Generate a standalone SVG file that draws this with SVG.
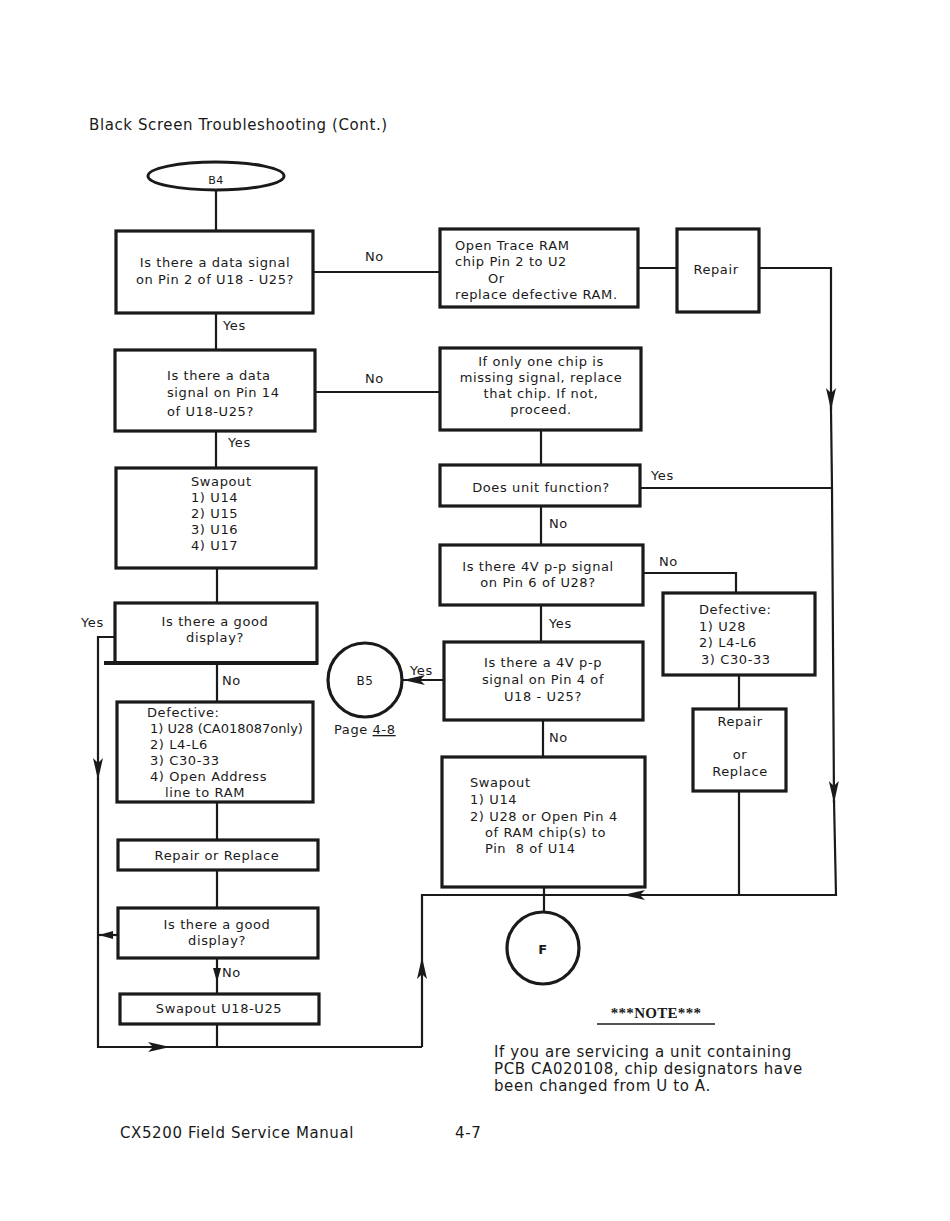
<svg xmlns="http://www.w3.org/2000/svg" width="950" height="1221" viewBox="0 0 950 1221">
<defs>
<style>
text{font-family:"DejaVu Sans","Liberation Sans",sans-serif;font-size:13px;letter-spacing:0.6px;fill:#1a1a1a}
.c{text-anchor:middle}
.box{fill:#fff;stroke:#1a1a1a;stroke-width:3.2}
.ln{fill:none;stroke:#1a1a1a;stroke-width:2.2}
.big{font-size:15px;letter-spacing:0.6px}
.b{font-weight:bold}
</style>
<marker id="ah" markerUnits="userSpaceOnUse" markerWidth="22" markerHeight="10" refX="22" refY="5" orient="auto">
<path d="M0,0 L22,5 L0,10 L5,5 z" fill="#1a1a1a"/>
</marker>
<marker id="ahs" markerUnits="userSpaceOnUse" markerWidth="14" markerHeight="8" refX="14" refY="4" orient="auto">
<path d="M0,0 L14,4 L0,8 z" fill="#1a1a1a"/>
</marker>
</defs>
<rect width="950" height="1221" fill="#fff"/>
<text x="89" y="130" class="big">Black Screen Troubleshooting (Cont.)</text>

<g id="connectors">
<line class="ln" x1="216" y1="190" x2="216" y2="231"/>
<line class="ln" x1="216" y1="313" x2="216" y2="350"/>
<line class="ln" x1="216" y1="431" x2="216" y2="468"/>
<line class="ln" x1="217" y1="568" x2="217" y2="603"/>
<line class="ln" x1="217" y1="663" x2="217" y2="702"/>
<line class="ln" x1="217" y1="802" x2="217" y2="840"/>
<line class="ln" x1="217" y1="870" x2="217" y2="908"/>
<line class="ln" x1="217" y1="958" x2="217" y2="982" marker-end="url(#ahs)"/>
<line class="ln" x1="217" y1="982" x2="217" y2="994"/>
<line class="ln" x1="217" y1="1024" x2="217" y2="1047"/>
<line class="ln" x1="313" y1="272" x2="440" y2="272"/>
<line class="ln" x1="315" y1="392" x2="440" y2="392"/>
<line class="ln" x1="638" y1="268" x2="677" y2="268"/>
<polyline class="ln" points="759,268 831,268 831,410"/>
<line class="ln" x1="831" y1="400" x2="831" y2="410" marker-end="url(#ah)"/>
<polyline class="ln" points="831,410 832,488 834,803" marker-end="url(#ah)"/>
<polyline class="ln" points="834,800 836,895 623,895" marker-end="url(#ah)"/>
<polyline class="ln" points="625,895 422,895 422,957"/>
<line class="ln" x1="422" y1="1047" x2="422" y2="957" marker-end="url(#ah)"/>
<line class="ln" x1="541" y1="430" x2="541" y2="465"/>
<line class="ln" x1="640" y1="488" x2="832" y2="488"/>
<line class="ln" x1="541" y1="506" x2="541" y2="545"/>
<polyline class="ln" points="643,573 736,573 736,593"/>
<line class="ln" x1="739" y1="675" x2="739" y2="709"/>
<line class="ln" x1="739" y1="791" x2="739" y2="895"/>
<line class="ln" x1="541" y1="605" x2="541" y2="642"/>
<line class="ln" x1="444" y1="680" x2="403" y2="680" marker-end="url(#ah)"/>
<line class="ln" x1="543" y1="720" x2="543" y2="757"/>
<line class="ln" x1="544" y1="887" x2="544" y2="912"/>
<polyline class="ln" points="115,637 98,637 98,780" marker-end="url(#ah)"/>
<polyline class="ln" points="98,778 98,1047 170,1047" marker-end="url(#ah)"/>
<line class="ln" x1="168" y1="1047" x2="422" y2="1047"/>
<line class="ln" x1="118" y1="935" x2="99" y2="935" marker-end="url(#ahs)"/>
<text x="365" y="261">No</text>
<text x="223" y="330">Yes</text>
<text x="365" y="383">No</text>
<text x="228" y="447">Yes</text>
<text x="651" y="480">Yes</text>
<text x="549" y="528">No</text>
<text x="659" y="566">No</text>
<text x="549" y="628">Yes</text>
<text x="410" y="675">Yes</text>
<text x="549" y="742">No</text>
<text x="81" y="627">Yes</text>
<text x="222" y="685">No</text>
<text x="222" y="977">No</text>
</g>

<g id="b4">
<ellipse cx="216" cy="176" rx="68" ry="14" fill="#fff" stroke="#1a1a1a" stroke-width="3"/>
<text x="216" y="184" class="c" style="font-size:11px">B4</text>
</g>

<g id="q-pin2">
<rect class="box" x="116" y="231" width="197" height="82"/>
<text x="215" y="267" class="c">Is there a data signal</text>
<text x="215" y="284" class="c">on Pin 2 of U18 - U25?</text>
</g>

<g id="open-trace">
<rect class="box" x="440" y="229" width="198" height="78"/>
<text x="455" y="250">Open Trace RAM</text>
<text x="455" y="266">chip Pin 2 to U2</text>
<text x="488" y="283">Or</text>
<text x="455" y="299">replace defective RAM.</text>
</g>

<g id="repair-top">
<rect class="box" x="677" y="229" width="82" height="83"/>
<text x="716" y="274" class="c">Repair</text>
</g>

<g id="q-pin14">
<rect class="box" x="115" y="350" width="200" height="81"/>
<text x="167" y="380">Is there a data</text>
<text x="167" y="397">signal on Pin 14</text>
<text x="167" y="416">of U18-U25?</text>
</g>

<g id="only-one">
<rect class="box" x="440" y="348" width="201" height="82"/>
<text x="541" y="366" class="c">If only one chip is</text>
<text x="541" y="382" class="c">missing signal, replace</text>
<text x="541" y="398" class="c">that chip.  If not,</text>
<text x="541" y="414" class="c">proceed.</text>
</g>

<g id="swap-u14-u17">
<rect class="box" x="116" y="468" width="200" height="100"/>
<text x="191" y="486">Swapout</text>
<text x="191" y="502">1) U14</text>
<text x="191" y="518">2) U15</text>
<text x="191" y="534">3) U16</text>
<text x="191" y="550">4) U17</text>
</g>

<g id="unit-function">
<rect class="box" x="440" y="465" width="200" height="41"/>
<text x="541" y="492" class="c">Does unit function?</text>
</g>

<g id="q-pin6">
<rect class="box" x="440" y="545" width="203" height="60"/>
<text x="538" y="571" class="c">Is there 4V p-p signal</text>
<text x="538" y="587" class="c">on Pin 6 of U28?</text>
</g>

<g id="good-display-1">
<rect class="box" x="115" y="603" width="202" height="60"/>
<line x1="104" y1="663" x2="318" y2="663" stroke="#1a1a1a" stroke-width="4"/>
<text x="215" y="626" class="c">Is there a good</text>
<text x="215" y="642" class="c">display?</text>
</g>

<g id="defective-u28">
<rect class="box" x="663" y="593" width="152" height="82"/>
<text x="699" y="614">Defective:</text>
<text x="699" y="631">1) U28</text>
<text x="699" y="647">2) L4-L6</text>
<text x="701" y="664">3) C30-33</text>
</g>

<g id="q-pin4">
<rect class="box" x="444" y="642" width="199" height="78"/>
<text x="543" y="667" class="c">Is there a 4V p-p</text>
<text x="543" y="684" class="c">signal on Pin 4 of</text>
<text x="543" y="701" class="c">U18 - U25?</text>
</g>

<g id="b5">
<circle cx="365" cy="680" r="37" fill="#fff" stroke="#1a1a1a" stroke-width="3.2"/>
<text x="365" y="685" class="c" style="font-size:12px">B5</text>
<text x="334" y="734">Page <tspan text-decoration="underline">4-8</tspan></text>
</g>

<g id="defective-list">
<rect class="box" x="117" y="702" width="196" height="100"/>
<text x="147" y="717">Defective:</text>
<text x="150" y="733" style="letter-spacing:0px">1) U28 (CA018087only)</text>
<text x="150" y="749">2) L4-L6</text>
<text x="150" y="765">3) C30-33</text>
<text x="150" y="781">4) Open Address</text>
<text x="165" y="797">line to RAM</text>
</g>

<g id="repair-replace-right">
<rect class="box" x="693" y="709" width="93" height="82"/>
<text x="740" y="726" class="c">Repair</text>
<text x="740" y="759" class="c">or</text>
<text x="740" y="776" class="c">Replace</text>
</g>

<g id="swap-u14-u28">
<rect class="box" x="442" y="757" width="203" height="130"/>
<text x="470" y="787">Swapout</text>
<text x="470" y="804">1) U14</text>
<text x="470" y="821">2) U28 or Open Pin 4</text>
<text x="485" y="837">of RAM chip(s) to</text>
<text x="485" y="853">Pin&#160; 8 of U14</text>
</g>

<g id="repair-replace-left">
<rect class="box" x="118" y="840" width="200" height="30"/>
<text x="217" y="860" class="c">Repair or Replace</text>
</g>

<g id="good-display-2">
<rect class="box" x="118" y="908" width="200" height="50"/>
<text x="217" y="929" class="c">Is there a good</text>
<text x="217" y="945" class="c">display?</text>
</g>

<g id="swap-u18-u25">
<rect class="box" x="120" y="994" width="199" height="30"/>
<text x="219" y="1013" class="c">Swapout U18-U25</text>
</g>

<g id="f">
<circle cx="543" cy="948" r="36" fill="#fff" stroke="#1a1a1a" stroke-width="3.2"/>
<text x="543" y="954" class="c b">F</text>
</g>

<g id="note">
<text x="656" y="1018" class="c b" style="font-family:'Liberation Serif',serif;font-size:15px;letter-spacing:0.3px">***NOTE***</text>
<line x1="597" y1="1024" x2="715" y2="1024" stroke="#1a1a1a" stroke-width="1.5"/>
<text x="494" y="1057" class="big">If you are servicing a unit containing</text>
<text x="494" y="1074" class="big">PCB CA020108, chip designators have</text>
<text x="494" y="1091" class="big">been changed from U to A.</text>
</g>

<text x="120" y="1138" class="big">CX5200 Field Service Manual</text>
<text x="455" y="1138" class="big">4-7</text>
</svg>
